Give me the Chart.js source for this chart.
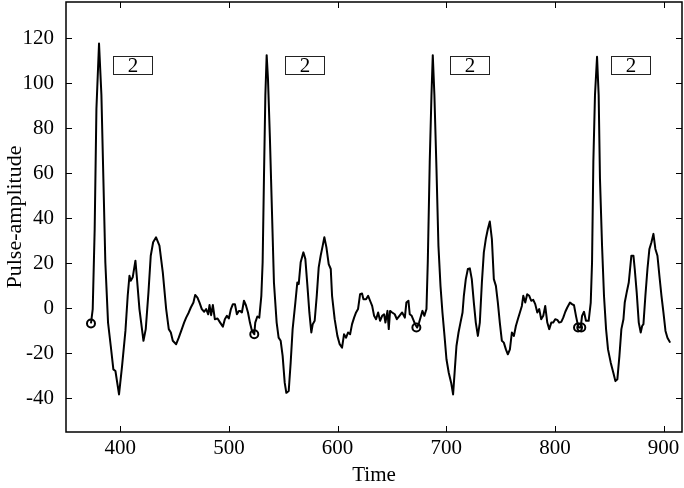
<!DOCTYPE html>
<html>
<head>
<meta charset="utf-8">
<script src="https://cdn.jsdelivr.net/npm/chart.js@4"></script>
<style>
  html, body { margin: 0; padding: 0; background: #fff; }
  canvas { display: block; }
</style>
</head>
<body>
<canvas id="pulseChart" width="684" height="488"></canvas>
<script>
// signal, one row per beat
const time = [
  373.0, 374.6, 376.4, 378.0, 380.4, 382.6, 384.4, 386.2, 388.7, 391.2, 393.6, 395.5, 398.8, 401.6, 404.7, 406.8,
  408.4, 409.6, 411.4, 413.9, 415.1, 417.6, 421.3, 423.4, 425.9, 428.0, 430.2, 432.9, 436.0, 439.1, 442.2, 444.6,
  446.5, 448.3, 451.4, 453.8, 456.6, 458.7, 460.6, 463.0, 464.9, 467.3, 468.9, 471.0, 472.9, 475.0, 477.2, 479.0,
  480.9, 482.1, 483.6, 485.2, 487.0, 489.5, 491.9, 494.4, 496.2, 498.1, 499.9, 501.8, 503.6, 505.5, 507.3, 509.1,

  510.1, 511.9, 513.8, 515.6, 517.5, 519.3, 521.2, 523.3, 524.2, 526.1, 527.9, 529.8, 531.0, 532.2, 533.5, 534.7,
  535.9, 537.7, 539.6, 541.4, 543.9, 545.7, 547.6, 549.4, 551.3, 552.8, 555.0, 556.8, 558.6, 561.1, 562.9, 564.2,
  566.0, 568.5, 570.3, 572.2, 574.0, 575.8, 577.1, 578.9, 580.8, 582.6, 584.4, 586.3, 587.8, 589.7, 591.8, 593.7,
  594.9, 597.3, 599.8, 601.9, 604.1, 605.9, 607.8, 609.6, 611.5, 613.3, 615.2, 617.0, 618.8, 620.7, 622.5, 623.8,
  626.2, 628.1, 629.9, 631.8, 633.6, 635.4, 637.3, 639.1, 641.0, 642.8, 644.0, 645.9, 647.1, 648.3, 650.2, 652.6,
  654.5, 656.9, 659.4, 661.9,

  663.3, 665.2, 666.4, 668.2, 670.1, 671.3, 673.2, 675.0, 676.8, 678.1, 679.9, 681.8, 683.0, 684.8, 686.4, 687.6,
  689.1, 691.0, 692.8, 694.7, 696.5, 698.4, 700.2, 702.3, 704.5, 706.3, 707.9, 709.4, 711.3, 713.1, 715.0, 716.2,
  718.0, 719.9, 721.7, 723.5, 725.4, 727.2, 729.1, 730.9, 732.8, 734.6, 736.4, 738.3, 740.1, 742.0, 743.8, 745.7,
  747.5, 749.3, 751.2, 753.0, 754.9, 756.7, 758.6, 760.4, 762.3, 764.1, 765.9, 767.8, 769.6, 770.9, 772.7, 774.5,
  776.4, 778.2, 780.1, 781.9, 783.8, 785.6, 787.4, 789.3, 791.1, 793.0, 794.8, 796.7, 798.5, 800.3, 802.2, 804.0,
  805.9, 807.7, 809.6, 811.4, 813.9,

  815.7, 817.6, 819.4, 820.7, 821.9, 823.7, 825.0, 826.8, 828.6, 831.1, 833.0, 834.2, 835.4, 836.9, 838.8, 840.3,
  841.5, 843.4, 845.2, 847.1, 848.9, 851.4, 853.8, 855.7, 857.5, 859.4, 861.2, 863.1, 864.3, 866.1, 868.0, 869.2,
  870.4, 872.3, 873.5, 875.3, 877.2, 879.0, 880.3, 881.5, 883.3, 885.2, 887.0, 888.9, 890.7, 892.5, 894.4, 896.2,
  898.1, 899.9, 901.8, 903.6, 906.1
];
const amplitude = [
  -6.8, -0.4, 35.2, 88.6, 117.6, 94.6, 57.5, 20.4, -6.4, -16.8, -27.2, -27.9, -38.3, -25.7, -10.1, 5.5,
  14.4, 12.2, 13.7, 21.1, 14.4, -0.4, -14.5, -9.3, 7.0, 23.3, 29.3, 31.5, 27.8, 15.9, -0.4, -9.3,
  -10.8, -14.5, -16.0, -13.1, -9.3, -6.4, -4.2, -1.9, 0.3, 2.5, 5.9, 4.7, 2.5, -0.4, -1.6, -0.4,
  -2.7, 1.4, -3.1, 1.4, -4.9, -4.6, -6.4, -8.2, -4.9, -3.4, -4.6, -0.4, 1.8, 1.8, -2.7, -1.2,

  -1.2, -1.9, 3.3, 1.3, -1.9, -6.4, -10.1, -11.6, -6.4, -3.7, -4.2, 5.5, 20.4, 57.5, 94.6, 112.4,
  102.0, 75.3, 42.6, 11.4, -6.4, -13.1, -14.5, -21.2, -33.1, -37.6, -36.8, -24.2, -9.3, 2.5, 11.4, 10.7,
  20.4, 24.8, 21.9, 10.0, -1.9, -10.8, -7.1, -5.6, 5.5, 18.1, 23.3, 27.8, 31.5, 27.0, 19.6, 17.4,
  5.5, -4.9, -12.3, -16.0, -17.5, -11.6, -13.1, -10.8, -11.6, -7.1, -4.2, -1.9, -0.4, 6.2, 6.5, 4.0,
  4.0, 5.5, 3.3, 1.0, -3.4, -4.9, -1.9, -5.6, -3.4, -2.7, -6.4, -1.2, -9.3, -1.2, -1.9, -2.7,
  -4.9, -3.4, -1.9, -4.2,

  2.5, 3.3, -2.7, -3.4, -5.6, -7.1, -8.6, -6.4, -3.4, -1.2, -3.4, -0.4, 20.4, 64.9, 94.6, 112.4,
  94.6, 61.9, 27.8, 9.9, -1.9, -12.3, -22.7, -28.7, -33.1, -38.3, -27.2, -16.8, -10.8, -6.4, -1.9, 5.5,
  12.9, 17.4, 17.7, 12.9, 2.5, -6.4, -12.3, -6.4, 11.4, 24.8, 30.7, 35.2, 38.5, 30.7, 12.9, 9.9,
  2.5, -6.4, -14.5, -15.3, -18.3, -20.5, -18.3, -10.8, -12.3, -7.9, -4.9, -1.9, 1.0, 5.5, 2.5, 6.2,
  5.5, 3.3, 3.7, 1.8, -1.9, -0.4, -4.9, -3.4, 1.0, -6.4, -9.3, -6.4, -6.4, -4.9, -5.2, -6.4,
  -6.1, -4.2, -1.6, 0.3, 2.5,

  1.8, 1.3, -3.4, -6.4, -8.6, -8.6, -3.4, -1.6, -5.6, -5.6, 2.5, 20.4, 64.9, 94.6, 111.7, 94.6,
  57.5, 27.8, 5.5, -9.3, -18.3, -24.2, -28.7, -32.4, -31.6, -21.2, -9.3, -4.9, 2.5, 7.0, 11.4, 17.4,
  23.3, 23.3, 17.4, 7.0, -6.4, -10.8, -7.9, -7.1, 5.5, 17.4, 26.3, 29.3, 33.0, 26.3, 23.3, 14.4,
  5.5, -1.9, -10.1, -13.1, -15.3
];

// beat onsets (circle marks)
const markerTime = [373.0, 523.3, 672.5, 821.3, 824.3];
const markerAmp = [-6.8, -11.6, -8.6, -8.6, -8.6];

// boxed labels, anchored at their top-left corner
const labelTime = [393.6, 551.2, 703.3, 851.4];
const labelAmp = [111.8, 111.8, 111.8, 111.8];
const labelText = ['2', '2', '2', '2'];

const xTicks = [400, 500, 600, 700, 800, 900];
const yTicks = [-40, -20, 0, 20, 40, 60, 80, 100, 120];

const serif = "'Liberation Serif', 'Times New Roman', serif";

const framePlugin = {
  id: 'frame',
  afterDatasetsDraw(chart) {
    const {ctx, chartArea: a, scales: {x, y}} = chart;
    const tick = 6;
    ctx.save();
    ctx.strokeStyle = '#000';
    ctx.lineWidth = 1.5;
    ctx.strokeRect(a.left, a.top, a.right - a.left, a.bottom - a.top);
    ctx.beginPath();
    xTicks.forEach(v => {
      const px = Math.round(x.getPixelForValue(v)) + 0.5;
      ctx.moveTo(px, a.bottom); ctx.lineTo(px, a.bottom - tick);
      ctx.moveTo(px, a.top); ctx.lineTo(px, a.top + tick);
    });
    yTicks.forEach(v => {
      const py = Math.round(y.getPixelForValue(v)) + 0.5;
      ctx.moveTo(a.left, py); ctx.lineTo(a.left + tick, py);
      ctx.moveTo(a.right, py); ctx.lineTo(a.right - tick, py);
    });
    ctx.lineWidth = 1;
    ctx.stroke();

    // label boxes
    ctx.font = '21px ' + serif;
    ctx.textAlign = 'center';
    ctx.textBaseline = 'middle';
    labelText.forEach((t, i) => {
      const bx = Math.round(x.getPixelForValue(labelTime[i])) + 0.5;
      const by = Math.round(y.getPixelForValue(labelAmp[i])) + 0.5;
      const w = 39, h = 18;
      ctx.fillStyle = '#fff';
      ctx.fillRect(bx, by, w, h);
      ctx.strokeStyle = '#222';
      ctx.lineWidth = 1;
      ctx.strokeRect(bx, by, w, h);
      ctx.fillStyle = '#000';
      ctx.fillText(t, bx + w / 2, by + h / 2 + 1);
    });
    ctx.restore();
  }
};

new Chart(document.getElementById('pulseChart'), {
  type: 'line',
  data: {
    datasets: [
      {
        label: 'Pulse',
        data: time.map((t, i) => ({x: t, y: amplitude[i]})),
        borderColor: '#000',
        borderWidth: 2,
        pointRadius: 0,
        tension: 0,
        borderJoinStyle: 'round'
      },
      {
        label: 'Onset',
        data: markerTime.map((t, i) => ({x: t, y: markerAmp[i]})),
        showLine: false,
        pointStyle: 'circle',
        pointRadius: 4,
        pointBorderWidth: 2,
        pointBorderColor: '#000',
        pointBackgroundColor: 'rgba(255,255,255,0)'
      }
    ]
  },
  options: {
    responsive: false,
    animation: false,
    devicePixelRatio: 1,
    layout: { autoPadding: false, padding: { top: 2, right: 2, left: 0, bottom: 0 } },
    plugins: { legend: { display: false }, tooltip: { enabled: false } },
    scales: {
      x: {
        type: 'linear',
        min: 350,
        max: 917,
        afterBuildTicks: s => { s.ticks = xTicks.map(v => ({value: v})); },
        afterFit: s => { s.height = 56; s.paddingLeft = 0; s.paddingRight = 0; },
        grid: { display: false },
        border: { display: false },
        ticks: { color: '#000', padding: -4, maxRotation: 0, autoSkip: false, font: { family: serif, size: 21 } },
        title: { display: true, text: 'Time', color: '#000', padding: { top: 0, bottom: 0 }, font: { family: serif, size: 21 } }
      },
      y: {
        type: 'linear',
        min: -55,
        max: 136,
        afterBuildTicks: s => { s.ticks = yTicks.map(v => ({value: v})); },
        afterFit: s => { s.width = 66; s.paddingTop = 0; s.paddingBottom = 0; },
        grid: { display: false },
        border: { display: false },
        ticks: { color: '#000', padding: 4, font: { family: serif, size: 21 } },
        title: { display: true, text: 'Pulse-amplitude', color: '#000', padding: { top: 2, bottom: 0 }, font: { family: serif, size: 22 } }
      }
    }
  },
  plugins: [framePlugin]
});
</script>
</body>
</html>
